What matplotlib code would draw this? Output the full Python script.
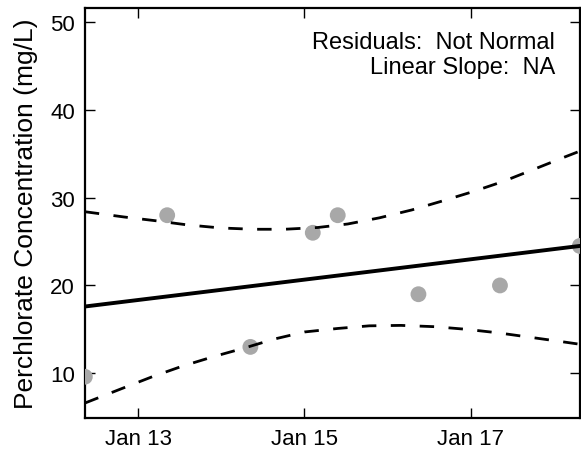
import numpy as np
import pandas as pd
import matplotlib
matplotlib.use("Agg")
from matplotlib import pyplot as plt
import matplotlib.dates as mdates

plt.rcParams['font.family'] = ['Liberation Sans', 'DejaVu Sans']

# sample days (day of January) and concentrations
sample_day = [12.36, 13.35, 14.35, 15.10, 15.40, 16.37, 17.35, 18.31]
sample_conc = [9.6, 28.0, 13.0, 26.0, 28.0, 19.0, 20.0, 24.5]

# fitted line at the ends of the record
fit_day = [12.36, 18.31]
fit_conc = [17.6, 24.5]

# confidence band
upper_day = [12.36, 12.83, 13.23, 13.59, 13.99, 14.38, 14.76, 15.16, 15.52,
             15.90, 16.29, 16.65, 17.03, 17.39, 17.75, 18.12, 18.31]
upper_conc = [28.4, 27.8, 27.35, 26.9, 26.55, 26.4, 26.4, 26.6, 27.0,
              27.7, 28.6, 29.6, 30.7, 31.85, 33.2, 34.6, 35.3]
lower_day = [12.36, 12.79, 13.17, 13.53, 13.91, 14.27, 14.64, 15.00, 15.40,
             15.78, 16.16, 16.57, 16.95, 17.33, 17.71, 18.09, 18.31]
lower_conc = [6.6, 8.2, 9.6, 10.8, 11.9, 12.85, 13.9, 14.7, 15.1,
              15.4, 15.45, 15.3, 15.0, 14.6, 14.1, 13.6, 13.3]

ytick_vals = [10, 20, 30, 40, 50]


def to_dates(days):
    base = pd.Timestamp("2015-01-01")
    return [base + pd.to_timedelta(d - 1, unit="D") for d in days]


fig = plt.figure(figsize=(5.81, 4.52), dpi=100)
ax = fig.add_axes([0.146, 0.073, 0.852, 0.907])

ax.scatter(to_dates(sample_day), sample_conc, s=130, c="#a8a8a8",
           edgecolors="none", zorder=3)
ax.plot(to_dates(fit_day), fit_conc, c="k", lw=2.8, zorder=4)
ax.plot(to_dates(upper_day), upper_conc, c="k", lw=2, ls=(0, (5.2, 5.2)), zorder=4)
ax.plot(to_dates(lower_day), lower_conc, c="k", lw=2, ls=(0, (5.2, 5.2)), zorder=4)

ax.set_xlim(to_dates([sample_day[0], sample_day[-1]]))
ax.set_ylim(4.9, 51.6)
ax.set_yticks(ytick_vals)
ax.xaxis.set_major_locator(mdates.DayLocator(bymonthday=[13, 15, 17]))
ax.xaxis.set_major_formatter(mdates.DateFormatter("%b %d"))

ax.tick_params(direction="in", length=7, width=1, top=True, right=True,
               labelsize=16, pad=7)
for sp in ax.spines.values():
    sp.set_linewidth(1.6)

ax.set_ylabel("Perchlorate Concentration (mg/L)", fontsize=19, labelpad=9)
ax.text(0.95, 0.945, "Residuals:  Not Normal\nLinear Slope:  NA",
        transform=ax.transAxes, ha="right", va="top", fontsize=17,
        multialignment="right", linespacing=1.22)

fig.savefig("out.png", dpi=100)
